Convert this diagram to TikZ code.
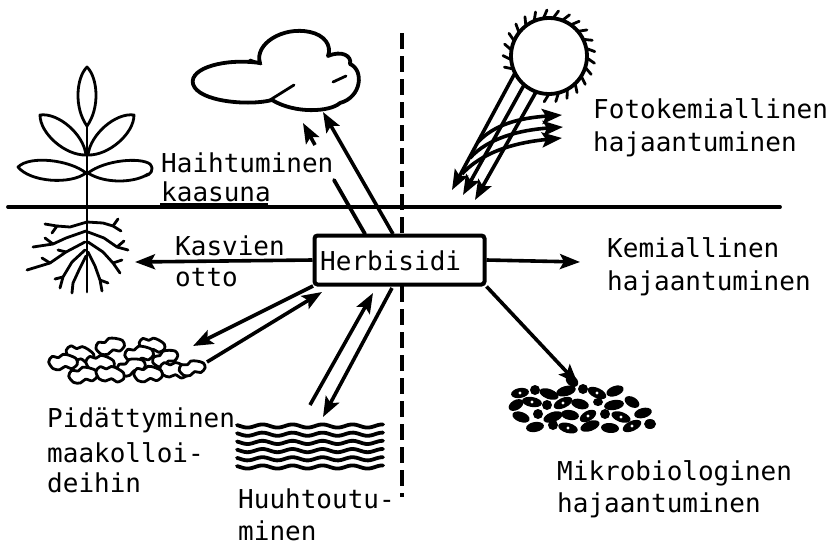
\documentclass[tikz,border=0pt]{standalone}
\usepackage{fontspec}
\newfontfamily\twfam{DejaVu Sans Mono}
\usetikzlibrary{arrows.meta}
\tikzset{
  ink/.style={line width=3.8pt, line cap=round, line join=round},
  thin ink/.style={line width=2.8pt, line cap=round, line join=round},
  arr/.style={line width=3.6pt, -{Stealth[length=20pt,width=15pt,inset=4pt]}},
  lbl/.style={anchor=base west, inner sep=0pt, font=\twfam\fontsize{26}{33}\selectfont},
  box/.style={draw, line width=4pt, rounded corners=3pt, fill=white,
              minimum width=170pt, minimum height=49pt, inner sep=0pt},
  lump/.style={line width=2.8pt, fill=white, line join=round},
  bug/.style={fill=black},
}
\begin{document}
\begin{tikzpicture}[x=1pt,y=-1pt]
\fill[white] (0,0) rectangle (834,546);
\useasboundingbox (0,0) rectangle (834,546);

% ground surface and the dashed divider
\draw[ink] (8,207) -- (780,207);
\draw[line width=4pt, dash pattern=on 16pt off 7pt] (402,33) -- (402,497);

% central box
\node[box] (herb) at (399.5,260) {};
\node[lbl] (herbtxt) at (320,270) {Herbisidi};

% ---------- plant ----------
\draw[thin ink] (87,126) -- (87,292);
\draw[thin ink] (87,126) .. controls (74,108) and (76,78) .. (87,67)
                .. controls (98,78) and (100,108) .. (87,126);
\draw[thin ink] (86,155) .. controls (83.7,134.4) and (58.4,112.4) .. (40,115)
                .. controls (40,133.6) and (65.3,155.6) .. (86,155);
\draw[thin ink] (88,155) .. controls (90.3,134.4) and (115.6,112.4) .. (134,115)
                .. controls (134,133.6) and (108.7,155.6) .. (88,155);
\draw[thin ink] (86,173) .. controls (70,160) and (30,155) .. (18,167)
                .. controls (30,182) and (70,185) .. (86,173);
\draw[thin ink] (145,176) .. controls (150,175) and (155,170) .. (150,164)
                .. controls (140,157) and (105,160) .. (88,173)
                .. controls (105,184) and (135,183) .. (148,174);
% roots
\draw[thin ink] (87,222) -- (70,227) -- (57,226) -- (45,224);
\draw[thin ink] (86,231) -- (66,238) -- (53,244) -- (33,247);
\draw[thin ink] (85,242) -- (66,252) -- (50,263) -- (27,270);
\draw[thin ink] (85,250) -- (72,262) -- (63,277) -- (60,288);
\draw[thin ink] (87,222) -- (103,223) -- (113,226) -- (121,231);
\draw[thin ink] (88,232) -- (104,238) -- (117,247) -- (128,250);
\draw[thin ink] (88,242) -- (103,252) -- (113,263) -- (120,273);
\draw[thin ink] (88,252) -- (95,266) -- (100,280) -- (102,291);
\draw[thin ink] (86,256) -- (79,270) -- (73,283) -- (72,293);
\draw[thin ink] (57,226) -- (52,233);
\draw[thin ink] (53,244) -- (45,238);
\draw[thin ink] (50,263) -- (42,258);
\draw[thin ink] (66,252) -- (58,250);
\draw[thin ink] (113,226) -- (118,219);
\draw[thin ink] (117,247) -- (124,241);
\draw[thin ink] (113,263) -- (122,260);
\draw[thin ink] (63,277) -- (55,279);
\draw[thin ink] (100,280) -- (108,283);

% ---------- cloud ----------
\draw[ink] (272,100) .. controls (250,106) and (198,102) .. (193,84)
           .. controls (189,68) and (225,58) .. (260,63)
           .. controls (254,44) and (283,26) .. (310,32)
           .. controls (324,35) and (332,45) .. (328,56)
           .. controls (342,50) and (352,56) .. (350,64)
           .. controls (364,70) and (362,97) .. (340,103)
           .. controls (330,112) and (295,114) .. (272,100);
\draw[thin ink] (270,100) -- (294,85);
\draw[thin ink] (333,82) -- (346,76);
\draw[thin ink] (250,60) -- (261,64);

% ---------- sun ----------
\coordinate (sun) at (549,56);
\draw[ink] (sun) circle[radius=38];
\foreach \a in {160,174.5,...,451} {
  \draw[thin ink, shift={(549,56)}] (\a:38) -- (\a+6:46);
}
\coordinate (b1s) at (515,73);  \coordinate (b1t) at (452,190);
\coordinate (b2s) at (524,85);  \coordinate (b2t) at (463,195);
\coordinate (b3s) at (536,92);  \coordinate (b3t) at (475,200);
\draw[arr] (b1s) -- (b1t);
\draw[arr] (b2s) -- (b2t);
\draw[arr] (b3s) -- (b3t);
\coordinate (c1t) at (562,115);
\coordinate (c2t) at (563,127);
\coordinate (c3t) at (562,138);
\draw[arr] (478,142) .. controls (495,124) and (520,118) .. (c1t);
\draw[arr] (470,158) .. controls (488,138) and (520,130) .. (c2t);
\draw[arr] (462,174) .. controls (484,150) and (520,142) .. (c3t);

% ---------- evaporation ----------
\coordinate (e1s) at (393,234); \coordinate (e1t) at (323,112);
\draw[arr] (e1s) -- (e1t);
\coordinate (e2s) at (365,234); \coordinate (e2m) at (334,180);
\coordinate (e2n) at (315,145); \coordinate (e2t) at (303,123);
\draw[ink] (e2s) -- (e2m);
\draw[arr] (e2n) -- (e2t);

% ---------- plant uptake, chemical and microbial breakdown ----------
\coordinate (uptake) at (135,262);
\draw[arr] (herb.west) -- (uptake);
\coordinate (chem) at (580,262);
\draw[arr] (herb.east) -- (chem);
\coordinate (micro) at (578,384);
\draw[arr] (herb.south east) -- (micro);

% ---------- adsorption to soil particles ----------
\coordinate (a1s) at (313,286); \coordinate (a1t) at (193,346);
\coordinate (a2s) at (207,362); \coordinate (a2t) at (322,292);
\draw[arr] (a1s) -- (a1t);
\draw[arr] (a2s) -- (a2t);
\foreach \x/\y/\r/\s in {110/346/10/1.1, 152/345/-10/1.0, 80/354/-15/1.1, 139/354/5/1.1,
    165/358/20/1.0, 63/362/0/1.1, 100/363/-5/1.1, 131/367/15/1.1, 174/370/-10/1.1,
    192/368/10/1.0, 83/375/5/1.1, 110/374/-10/1.1, 148/374/0/1.1} {
  \draw[lump, shift={(\x,\y)}, rotate=\r, scale=\s] plot[smooth cycle] coordinates
    {(-13,0) (-10,-5) (-4,-4) (0,-7) (6,-6) (12,-3) (13,2) (8,6) (2,4) (-3,7) (-9,6)};
}

% ---------- leaching ----------
\coordinate (l1s) at (310,405); \coordinate (l1t) at (373,293);
\coordinate (l2s) at (392,288); \coordinate (l2t) at (323,417);
\draw[arr] (l1s) -- (l1t);
\draw[arr] (l2s) -- (l2t);
\foreach \i in {0,...,5} {
  \draw[ink] plot[domain=237:383, samples=60, smooth]
    (\x, {426+8.2*\i + 1.6*sin(12*\x)});
}

% ---------- microbes ----------
\foreach \x/\y/\r/\a/\b in {
    520/393/10/9/5, 535/390/0/5/5, 549/394/-20/10/5, 566/391/15/10/5, 583/389/0/5/5,
    597/393/-25/10/5, 615/391/20/9/5, 572/381/-40/7/5,
    516/405/30/8/5, 532/402/-10/10/5, 547/405/0/5/5, 563/403/25/10/5, 580/404/-15/9/5,
    598/402/0/5/4, 614/405/10/10/5, 632/402/-30/8/5,
    521/417/-20/9/5, 538/414/0/5/5, 553/417/20/10/5, 570/415/-10/9/5, 588/416/30/9/5,
    605/414/0/5/5, 621/417/-20/10/5, 643/413/15/9/5,
    535/427/10/9/5, 553/425/0/5/5, 568/428/-15/10/5, 590/426/20/10/5, 610/428/-5/9/5,
    632/426/25/10/5, 650/424/0/6/5} {
  \fill[bug, shift={(\x,\y)}, rotate=\r] (0,0) ellipse[x radius=\a, y radius=\b];
}
\foreach \x/\y in {520/393, 563/403, 588/416, 621/417, 568/428, 632/426, 532/402, 597/393} {
  \fill[white] (\x,\y) circle[radius=1.6];
}

% ---------- labels ----------
\node[lbl] (foto1) at (593,118) {Fotokemiallinen};
\node[lbl] (foto2) at (593,151) {hajaantuminen};
\node[lbl] (haih1) at (161,172) {Haihtuminen};
\node[lbl] (haih2) at (161,201) {kaasuna};
\draw[line width=1.5pt] (160,204) -- (268,204);
\node[lbl] (kasv1) at (175,255) {Kasvien};
\node[lbl] (kasv2) at (175,286) {otto};
\node[lbl] (kem1) at (607,257) {Kemiallinen};
\node[lbl] (kem2) at (607,290) {hajaantuminen};
\node[lbl] (pid1) at (47,427) {Pidättyminen};
\node[lbl] (pid2) at (47,462) {maakolloi-};
\node[lbl] (pid3) at (47,492) {deihin};
\node[lbl] (huu1) at (238,508) {Huuhtoutu-};
\node[lbl] (huu2) at (238,540) {minen};
\node[lbl] (mik1) at (557,480) {Mikrobiologinen};
\node[lbl] (mik2) at (557,512) {hajaantuminen};
\end{tikzpicture}
\end{document}
